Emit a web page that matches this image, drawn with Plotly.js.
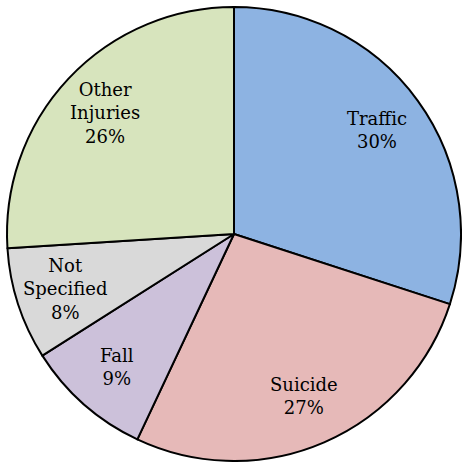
<!DOCTYPE html>
<html><head><meta charset="utf-8">
<script src="https://cdn.plot.ly/plotly-3.0.1.min.js"></script>
<style>html,body{margin:0;padding:0;background:#fff}</style>
</head><body><div id="chart" style="width:462px;height:462px"></div>
<script>
const labels = ["Traffic", "Suicide", "Fall", "Not<br>Specified", "Other<br>Injuries"];
const values = [30, 27, 9, 8, 26];
const colors = ["#8db3e2", "#e6b9b8", "#ccc1da", "#d9d9d9", "#d7e4bd"];

const W = 462, H = 462;
const dom = {x: [7/W, 461/W], y: [1/H, 455/H]};
const FONT = "DejaVu Serif";

// label positions derived from the data: mid-angle of each slice, at 0.78 of the radius
const total = values.reduce((a, b) => a + b, 0);
const cx = (dom.x[0] + dom.x[1]) / 2, cy = (dom.y[0] + dom.y[1]) / 2;
const Rpx = Math.min((dom.x[1] - dom.x[0]) * W, (dom.y[1] - dom.y[0]) * H) / 2;
const rFrac = 0.78;
let cum = 0;
const annotations = values.map((v, i) => {
  const mid = (cum + v / 2) / total * 2 * Math.PI;
  cum += v;
  return {
    xref: "paper", yref: "paper",
    x: cx + rFrac * Rpx * Math.sin(mid) / W,
    y: cy + rFrac * Rpx * Math.cos(mid) / H,
    xanchor: "center", yanchor: "middle",
    text: labels[i] + "<br>" + Math.round(v / total * 100) + "%",
    showarrow: false,
    font: {family: FONT, size: 18, color: "#000"}
  };
});

Plotly.newPlot("chart", [{
  type: "pie",
  labels: labels,
  values: values,
  sort: false,
  direction: "clockwise",
  rotation: 0,
  marker: {colors: colors, line: {color: "#000", width: 2}},
  textinfo: "none",
  hoverinfo: "none",
  domain: dom
}], {
  width: W, height: H,
  margin: {l: 0, r: 0, t: 0, b: 0},
  showlegend: false,
  paper_bgcolor: "#fff",
  font: {family: FONT},
  annotations: annotations
}, {staticPlot: true});
</script></body></html>
